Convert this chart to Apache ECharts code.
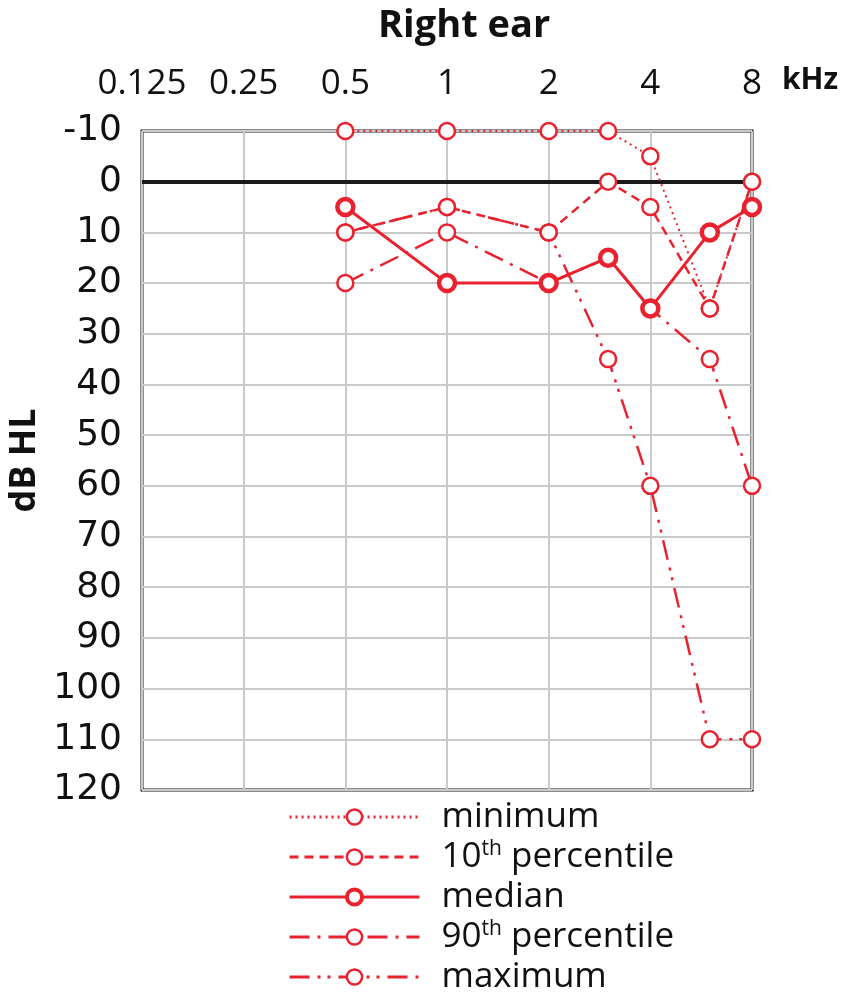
<!DOCTYPE html>
<html>
<head>
<meta charset="utf-8">
<script src="https://cdn.jsdelivr.net/npm/echarts@6/dist/echarts.min.js"></script>
<style>
	html, body { margin: 0; padding: 0; background: #fff; }
	#chart { width: 846px; height: 995px; }
</style>
</head>
<body>
<div id="chart"></div>
<script>
// frequencies in kHz
var freqs = [0.5, 1, 2, 3, 4, 6, 8];
var freqTicks = [0.125, 0.25, 0.5, 1, 2, 4, 8];
var dbTicks = [-10, 0, 10, 20, 30, 40, 50, 60, 70, 80, 90, 100, 110, 120];

// thresholds in dB HL
var minimum = [-10, -10, -10, -10, -5, 25, 0];
var p10 = [10, 5, 10, 0, 5, 25, 0];
var median = [5, 20, 20, 15, 25, 10, 5];
var p90 = [20, 10, 20, 15, 25, 35, 60];
var maximum = [10, 5, 10, 35, 60, 110, 110];

var red = "#e8232f";
var font = "Open Sans";

function pairs(vals) {
	var out = [];
	for (var i = 0; i < freqs.length; i++) {
		out.push([freqs[i], vals[i]]);
	}
	return out;
}

function mkSeries(name, vals, dash, width, border, z) {
	return {
		name: name,
		type: "line",
		data: pairs(vals),
		symbol: "circle",
		symbolSize: 16,
		z: z,
		lineStyle: { color: red, width: width, type: dash },
		itemStyle: { color: "#fff", borderColor: red, borderWidth: border }
	};
}

var names = ["minimum", "10th percentile", "median", "90th percentile", "maximum"];
var legendData = [];
for (var i = 0; i < names.length; i++) {
	legendData.push({
		name: names[i],
		itemStyle: { color: "#fff", borderColor: red, borderWidth: names[i] == "median" ? 4 : 2.5 }
	});
}

var chart = echarts.init(document.getElementById("chart"));
var option = {
	animation: false,
	backgroundColor: "#fff",
	title: {
		text: "Right ear",
		left: 373,
		top: 2,
		textStyle: { fontFamily: font, fontSize: 38, fontWeight: "bold", color: "#111" }
	},
	graphic: [{
		type: "text",
		left: 782,
		top: 65,
		style: { text: "kHz", fontFamily: font, fontSize: 30, fontWeight: "bold", fill: "#111" }
	}],
	grid: {
		left: 142,
		right: 94,
		top: 131,
		bottom: 205,
		outerBoundsMode: "none",
		containLabel: false,
		show: true,
		borderColor: "#1a1a1a",
		borderWidth: 3
	},
	legend: {
		orient: "vertical",
		left: 283,
		top: 794,
		height: 200,
		itemWidth: 130,
		itemHeight: 19,
		itemGap: 4,
		data: legendData,
		lineStyle: { width: 3 },
		textStyle: {
			fontFamily: font,
			fontSize: 35,
			color: "#111",
			lineHeight: 36,
			padding: [0, 0, 0, 17],
			rich: {
				sup: { fontFamily: font, fontSize: 21, verticalAlign: "top", lineHeight: 20, padding: [0, 0, 14, 0], color: "#111" }
			}
		},
		formatter: function(n) {
			if (n == "10th percentile") return "10{sup|th} percentile";
			if (n == "90th percentile") return "90{sup|th} percentile";
			return n;
		}
	},
	xAxis: {
		type: "log",
		logBase: 2,
		min: 0.125,
		max: 8,
		position: "top",
		axisLine: { show: false },
		axisTick: { show: false },
		axisLabel: {
			fontFamily: font,
			fontSize: 35,
			color: "#111",
			margin: 29,
			formatter: function(v) {
				for (var i = 0; i < freqTicks.length; i++) {
					if (Math.abs(freqTicks[i] - v) < 1e-6) return String(freqTicks[i]);
				}
				return "";
			}
		},
		splitLine: { show: true, lineStyle: { color: "#c9c9c9", width: 2 } }
	},
	yAxis: {
		type: "value",
		inverse: true,
		min: dbTicks[0],
		max: dbTicks[dbTicks.length - 1],
		interval: 10,
		name: "dB HL",
		nameLocation: "middle",
		nameGap: 90,
		nameRotate: 90,
		nameTextStyle: { fontFamily: font, fontSize: 36, fontWeight: "bold", color: "#111" },
		axisLine: { show: false },
		axisTick: { show: false },
		axisLabel: { fontFamily: "DejaVu Sans", fontSize: 36, color: "#111", margin: 20 },
		splitLine: { show: true, lineStyle: { color: "#c9c9c9", width: 2 } }
	},
	series: [
		mkSeries(names[0], minimum, [2, 4], 2, 2.5, 3),
		mkSeries(names[1], p10, [9, 6], 2.5, 2.5, 4),
		mkSeries(names[3], p90, [20, 8, 3, 8], 2.5, 2.5, 5),
		mkSeries(names[4], maximum, [20, 8, 3, 7, 3, 8], 2.5, 2.5, 6),
		mkSeries(names[2], median, "solid", 3, 4.5, 7)
	]
};
// 0 dB reference line
option.series[0].markLine = {
	silent: true,
	symbol: "none",
	z: 2,
	label: { show: false },
	lineStyle: { color: "#1a1a1a", width: 4, type: "solid" },
	data: [{ yAxis: 0 }]
};
chart.setOption(option);
</script>
</body>
</html>
